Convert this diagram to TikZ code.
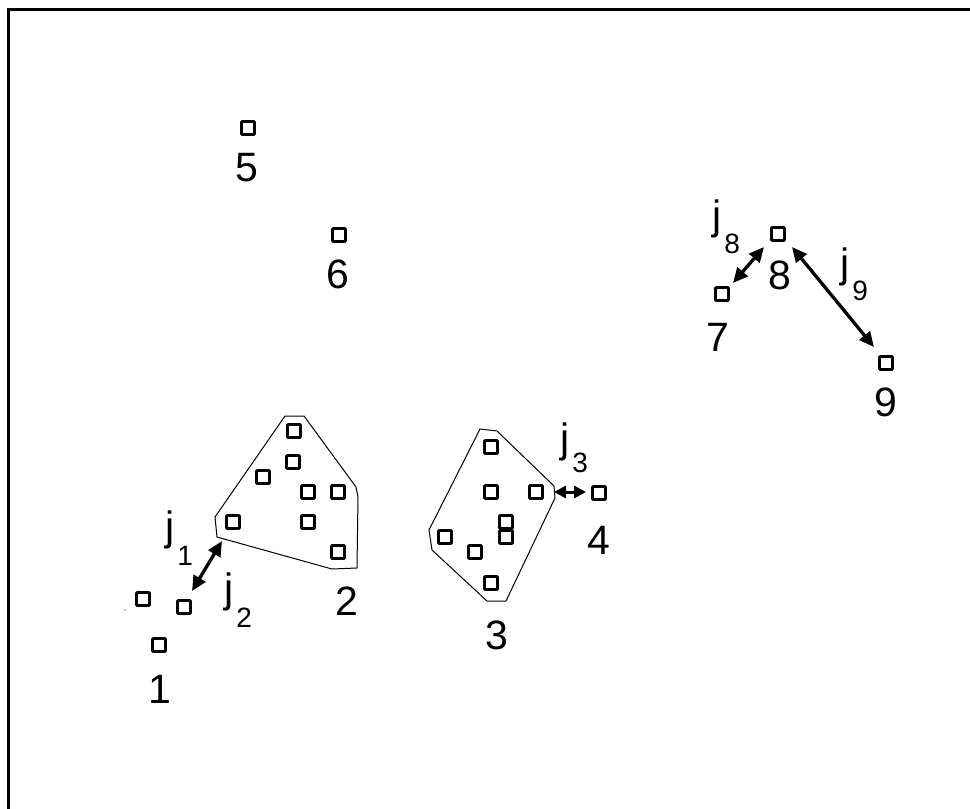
\documentclass[tikz,border=0pt]{standalone}
\usepackage{fontspec}
\setmainfont{Liberation Sans}
\usetikzlibrary{arrows.meta}
\newcommand{\jlab}[2][23pt]{j\kern3pt\raisebox{-#1}{\fontsize{28}{28}\selectfont #2}}
\tikzset{
  sq/.style={draw, line width=2.7pt, minimum size=13pt, inner sep=0pt, rounded corners=0.8pt},
  num/.style={inner sep=0pt, font=\fontsize{41}{41}\selectfont},
  jl/.style={inner sep=0pt, anchor=base west, font=\fontsize{41}{41}\selectfont},
  hull/.style={draw, line width=1pt, line join=miter},
  dbl/.style={line width=3.3pt, {Triangle[length=15pt,width=13.5pt]}-{Triangle[length=15pt,width=13.5pt]}},
  dblshort/.style={line width=3pt, {Triangle[length=12pt,width=12pt]}-{Triangle[length=12pt,width=12pt]}}
}
\begin{document}
\begin{tikzpicture}[x=1pt,y=-1pt]
\useasboundingbox (0,0) rectangle (970,809);
\begin{scope}
\clip (0,0) rectangle (970,809);
\draw[line width=3pt] (8,9) rectangle (1000,850);
\end{scope}
% cluster 1
\node[sq] (a1) at (143,599) {};
\node[sq] (a2) at (184,607) {};
\node[sq] (a3) at (159,645) {};
\node[num] (l1) at (160,689) {1};
\fill (125,610) circle (0.7pt);
% cluster 2
\draw[hull] (285,416) -- (304,416) -- (356,487) -- (358,497) -- (357,568) -- (332,569) -- (217,537) -- (215,517) -- cycle;
\node[sq] (b1) at (294,431) {};
\node[sq] (b2) at (293,462) {};
\node[sq] (b3) at (263,477) {};
\node[sq] (b4) at (308,492) {};
\node[sq] (b5) at (338,492) {};
\node[sq] (b6) at (233,522) {};
\node[sq] (b7) at (308,522) {};
\node[sq] (b8) at (338,552) {};
\node[num] (l2) at (347,601) {2};
% cluster 3
\draw[hull] (480,429) -- (497,431) -- (554,486) -- (555,498) -- (506,601) -- (487,601) -- (432,550) -- (429,530) -- cycle;
\node[sq] (c1) at (491,447) {};
\node[sq] (c2) at (491,492) {};
\node[sq] (c3) at (536,492) {};
\node[sq] (c4) at (445,537) {};
\node[sq] (c5) at (475,552) {};
\node[sq] (c6) at (506,522) {};
\node[sq] (c7) at (506,537) {};
\node[sq] (c8) at (491,583) {};
\node[num] (l3) at (497,635) {3};
% 4
\node[sq] (d1) at (599,493) {};
\node[num] (l4) at (599,540) {4};
% 5, 6
\node[sq] (e1) at (248,128) {};
\node[num] (l5) at (247,168) {5};
\node[sq] (f1) at (339,235) {};
\node[num] (l6) at (338,274) {6};
% 7, 8, 9
\node[sq] (g1) at (722,294) {};
\node[num] (l7) at (718,337) {7};
\node[sq] (h1) at (778,234) {};
\node[num] (l8) at (780,275) {8};
\node[sq] (k1) at (886,363) {};
\node[num] (l9) at (886,402) {9};
% arrow end points
\coordinate (p1) at (222,541);
\coordinate (p2) at (192,591);
\coordinate (p3) at (554,492);
\coordinate (p4) at (586,492);
\coordinate (p5) at (733,283);
\coordinate (p6) at (764,247);
\coordinate (p7) at (792,247);
\coordinate (p8) at (874,347);
\draw[dbl] (p1) -- (p2);
\draw[dblshort] (p3) -- (p4);
\draw[dbl] (p5) -- (p6);
\draw[dbl] (p7) -- (p8);
% j labels
\node[jl] (j1) at (165,540) {\jlab[25pt]{1}};
\node[jl] (j2) at (224,602) {\jlab[25pt]{2}};
\node[jl] (j3) at (560,452) {\jlab[20pt]{3}};
\node[jl] (j8) at (712,229) {\jlab[24pt]{8}};
\node[jl] (j9) at (840,277) {\jlab[23pt]{9}};
\end{tikzpicture}
\end{document}
